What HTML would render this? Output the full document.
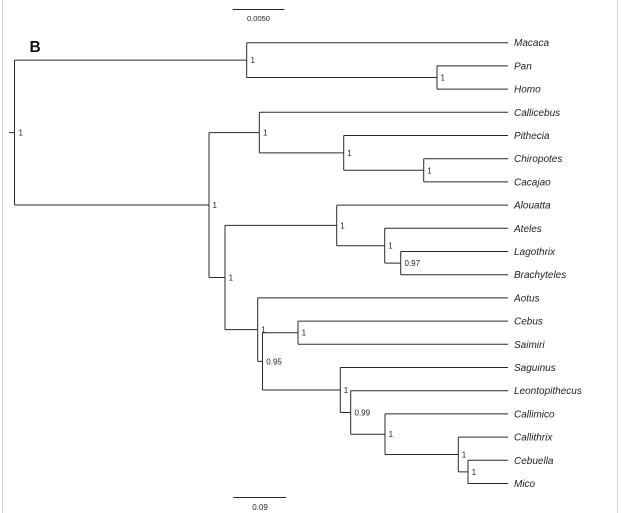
<!DOCTYPE html>
<html>
<head>
<meta charset="utf-8">
<style>
  html, body { margin:0; padding:0; background:#fff; }
  body { width:622px; height:513px; overflow:hidden; }
  svg { display:block; }
  .tip { font-family:"Liberation Sans", Arial, sans-serif; font-style:italic; font-size:10px; fill:#222; }
  .sup { font-family:"Liberation Sans", Arial, sans-serif; font-size:8px; fill:#222; }
  .sc { font-family:"Liberation Sans", Arial, sans-serif; font-size:7.5px; fill:#222; }
</style>
</head>
<body>
<svg width="622" height="513" viewBox="0 0 622 513" xmlns="http://www.w3.org/2000/svg">
  <rect x="0" y="0" width="622" height="513" fill="#fff"/>
  <line x1="2.5" y1="0" x2="2.5" y2="513" stroke="#d4d4d4" stroke-width="1"/>
  <line x1="617.5" y1="0" x2="617.5" y2="513" stroke="#d4d4d4" stroke-width="1"/>

  <!-- scale bars -->
  <path d="M232.7,9.5 H284.3" stroke="#222" stroke-width="1" fill="none"/>
  <text class="sc" x="258.5" y="21" text-anchor="middle">0.0050</text>
  <path d="M233.3,497.5 H286" stroke="#222" stroke-width="1" fill="none"/>
  <text class="sup" x="260" y="510" text-anchor="middle">0.09</text>

  <text x="29.5" y="52" font-family="Liberation Sans, Arial, sans-serif" font-weight="bold" font-size="15.5px" fill="#111">B</text>

  <path stroke="#2a2a2a" stroke-width="1" fill="none" d="
    M9,132.6 H14.5 M14.5,60.1 V205 M14.5,60.1 H246.7 M14.5,205 H209
    M246.7,42.7 V77.5 M246.7,42.7 H508 M246.7,77.5 H437
    M437,65.9 V89.1 M437,65.9 H508 M437,89.1 H508
    M209,132.6 V277.5 M209,132.6 H259.3 M209,277.5 H225
    M259.3,112.3 V152.9 M259.3,112.3 H508 M259.3,152.9 H343.7
    M343.7,135.5 V170.3 M343.7,135.5 H508 M343.7,170.3 H423.7
    M423.7,158.7 V181.9 M423.7,158.7 H508 M423.7,181.9 H508
    M225,225.4 V329.6 M225,225.4 H336.7 M225,329.6 H257.7
    M336.7,205.1 V245.7 M336.7,205.1 H508 M336.7,245.7 H384.7
    M384.7,228.3 V263.1 M384.7,228.3 H508 M384.7,263.1 H400.7
    M400.7,251.5 V274.7 M400.7,251.5 H508 M400.7,274.7 H508
    M257.7,297.9 V361.4 M257.7,297.9 H508 M257.7,361.4 H262.5
    M262.5,332.7 V390 M262.5,332.7 H298 M262.5,390 H340.3
    M298,321.1 V344.3 M298,321.1 H508 M298,344.3 H508
    M340.3,367.5 V412.5 M340.3,367.5 H508 M340.3,412.5 H350.7
    M350.7,390.7 V434.2 M350.7,390.7 H508 M350.7,434.2 H385
    M385,413.9 V454.5 M385,413.9 H508 M385,454.5 H458.3
    M458.3,437.1 V471.9 M458.3,437.1 H508 M458.3,471.9 H468
    M468,460.3 V483.5 M468,460.3 H508 M468,483.5 H508
  "/>

  <!-- support values -->
  <text class="sup" x="18.5" y="135.6">1</text>
  <text class="sup" x="250.5" y="63.1">1</text>
  <text class="sup" x="440.5" y="80.5">1</text>
  <text class="sup" x="212.5" y="208">1</text>
  <text class="sup" x="263" y="135.6">1</text>
  <text class="sup" x="347.3" y="155.9">1</text>
  <text class="sup" x="427.3" y="173.3">1</text>
  <text class="sup" x="228.6" y="280.5">1</text>
  <text class="sup" x="340.3" y="228.4">1</text>
  <text class="sup" x="388.3" y="248.7">1</text>
  <text class="sup" x="404.5" y="266.1">0.97</text>
  <text class="sup" x="261.3" y="332.4">1</text>
  <text class="sup" x="266.3" y="364.4">0.95</text>
  <text class="sup" x="301.6" y="335.7">1</text>
  <text class="sup" x="343.8" y="393">1</text>
  <text class="sup" x="354.5" y="415.5">0.99</text>
  <text class="sup" x="388.6" y="437.2">1</text>
  <text class="sup" x="461.8" y="457.5">1</text>
  <text class="sup" x="471.6" y="474.9">1</text>

  <!-- tip labels -->
  <text class="tip" x="514" y="46.2">Macaca</text>
  <text class="tip" x="514" y="69.4">Pan</text>
  <text class="tip" x="514" y="92.6">Homo</text>
  <text class="tip" x="514" y="115.8">Callicebus</text>
  <text class="tip" x="514" y="139">Pithecia</text>
  <text class="tip" x="514" y="162.2">Chiropotes</text>
  <text class="tip" x="514" y="185.4">Cacajao</text>
  <text class="tip" x="514" y="208.6">Alouatta</text>
  <text class="tip" x="514" y="231.8">Ateles</text>
  <text class="tip" x="514" y="255">Lagothrix</text>
  <text class="tip" x="514" y="278.2">Brachyteles</text>
  <text class="tip" x="514" y="301.4">Aotus</text>
  <text class="tip" x="514" y="324.6">Cebus</text>
  <text class="tip" x="514" y="347.8">Saimiri</text>
  <text class="tip" x="514" y="371">Saguinus</text>
  <text class="tip" x="514" y="394.2">Leontopithecus</text>
  <text class="tip" x="514" y="417.4">Callimico</text>
  <text class="tip" x="514" y="440.6">Callithrix</text>
  <text class="tip" x="514" y="463.8">Cebuella</text>
  <text class="tip" x="514" y="487">Mico</text>
</svg>
</body>
</html>
